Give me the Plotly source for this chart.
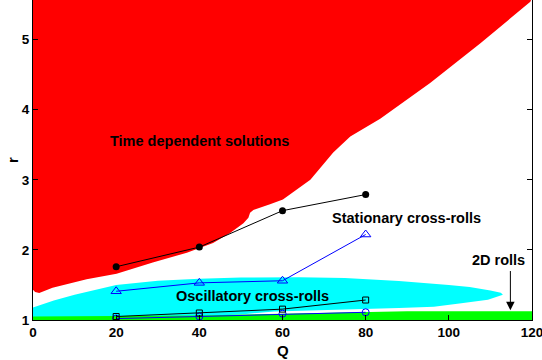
import plotly.graph_objects as go

# Region boundaries (Q, r)
red_Q = [0, 0.5, 1.5, 4.7, 12.9, 20.1, 28.8, 37.0, 43.3, 47.4, 50.6, 51.8, 52.2, 53.0, 57.0, 60.1, 66.7, 72.2, 76.3, 83.5, 95.5, 107.6, 119.6, 120, 0]
red_r = [1.43, 1.40, 1.385, 1.46, 1.58, 1.66, 1.82, 1.96, 2.10, 2.24, 2.38, 2.46, 2.53, 2.57, 2.65, 2.72, 3.00, 3.39, 3.62, 3.87, 4.38, 4.95, 5.54, 5.6, 5.6]

cyan_Q = [0, 5, 10, 20, 30, 40, 50, 64, 75, 88, 100, 105, 110, 112.5, 113, 111.5, 109.4, 103, 96.4, 88, 80.5, 70, 64.3, 58, 50, 30, 0]
cyan_r = [1.18, 1.28, 1.36, 1.50, 1.56, 1.59, 1.605, 1.61, 1.60, 1.555, 1.50, 1.47, 1.42, 1.39, 1.36, 1.33, 1.29, 1.24, 1.19, 1.17, 1.157, 1.145, 1.135, 1.12, 1.08, 1.03, 1.0]

green_Q = [0, 40, 60, 80, 90, 120, 120, 0]
green_r = [1.05, 1.065, 1.09, 1.115, 1.125, 1.125, 1.0, 1.0]

# Series
Q_pts = [20, 40, 60, 80]
r_time = [1.76, 2.04, 2.56, 2.79]
r_stat = [1.41, 1.53, 1.56, 2.22]
r_sq = [1.05, 1.10, 1.155, 1.285]
r_circ = [1.02, 1.05, 1.09, 1.11]

x_ticks = [0, 20, 40, 60, 80, 100, 120]
y_ticks = [1, 2, 3, 4, 5]

fig = go.Figure()
fig.add_trace(go.Scatter(x=red_Q, y=red_r, fill='toself', fillcolor='#ff0000',
                         mode='lines', line=dict(width=0, color='#ff0000'), hoverinfo='skip'))
fig.add_trace(go.Scatter(x=cyan_Q, y=cyan_r, fill='toself', fillcolor='#00ffff',
                         mode='lines', line=dict(width=0, color='#00ffff'), hoverinfo='skip'))
fig.add_trace(go.Scatter(x=green_Q, y=green_r, fill='toself', fillcolor='#00ff00',
                         mode='lines', line=dict(width=0, color='#00ff00'), hoverinfo='skip'))

fig.add_trace(go.Scatter(x=Q_pts, y=r_circ, mode='lines+markers',
                         line=dict(color='#0000ff', width=1),
                         marker=dict(symbol='circle-open', size=7, color='#0000ff', line=dict(width=1))))
fig.add_trace(go.Scatter(x=Q_pts, y=r_sq, mode='lines+markers',
                         line=dict(color='#000000', width=1),
                         marker=dict(symbol='square-open', size=6, color='#000000', line=dict(width=1))))
fig.add_trace(go.Scatter(x=Q_pts, y=r_stat, mode='lines+markers',
                         line=dict(color='#0000ff', width=1),
                         marker=dict(symbol='triangle-up-open', size=9, color='#0000ff', line=dict(width=1))))
fig.add_trace(go.Scatter(x=Q_pts, y=r_time, mode='lines+markers',
                         line=dict(color='#000000', width=1),
                         marker=dict(symbol='circle', size=7, color='#000000')))

font_fam = 'Liberation Sans, Arial, Helvetica, sans-serif'
lbl = dict(family=font_fam, size=14.5, color='black', weight='bold')

annots = [
    dict(x=40.1, y=3.56, text='Time dependent solutions'),
    dict(x=89.9, y=2.45, text='Stationary cross-rolls'),
    dict(x=52.7, y=1.34, text='Oscillatory cross-rolls'),
    dict(x=111.9, y=1.86, text='2D rolls'),
]
ann_list = []
for a in annots:
    ann_list.append(dict(x=a['x'], y=a['y'], xref='x', yref='y', text=a['text'],
                         showarrow=False, font=lbl, xanchor='center', yanchor='middle'))
ann_list.append(dict(x=114.8, y=1.14, ax=114.8, ay=1.72, xref='x', yref='y', axref='x', ayref='y',
                     text='', showarrow=True, arrowhead=2, arrowsize=1.7, arrowwidth=1, arrowcolor='black'))
ann_list.append(dict(x=0.5, y=-0.094, xref='paper', yref='paper', text='Q', showarrow=False,
                     font=dict(family=font_fam, size=15, color='black', weight='bold'),
                     xanchor='center', yanchor='middle'))
ann_list.append(dict(x=-0.042, y=0.5, xref='paper', yref='paper', text='r', showarrow=False,
                     textangle=-90,
                     font=dict(family=font_fam, size=15, color='black', weight='bold'),
                     xanchor='center', yanchor='middle'))

tickfont = dict(family=font_fam, size=13.5, color='black', weight='bold')
fig.update_layout(
    width=542, height=360,
    margin=dict(l=33, r=10, t=0, b=40),
    paper_bgcolor='white', plot_bgcolor='white',
    showlegend=False,
    annotations=ann_list,
    xaxis=dict(range=[0, 120], tickvals=x_ticks, ticks='inside', ticklen=5, tickcolor='black',
               showline=True, linecolor='black', linewidth=1, showgrid=False, zeroline=False,
               tickfont=tickfont, mirror=False, ticklabeloverflow='allow'),
    yaxis=dict(range=[1, 5.566], tickvals=y_ticks, ticks='inside', ticklen=5, tickcolor='black',
               showline=True, linecolor='black', linewidth=1, showgrid=False, zeroline=False,
               tickfont=tickfont, mirror='ticks', ticklabeloverflow='allow'),
)

fig.write_html('out.html')
